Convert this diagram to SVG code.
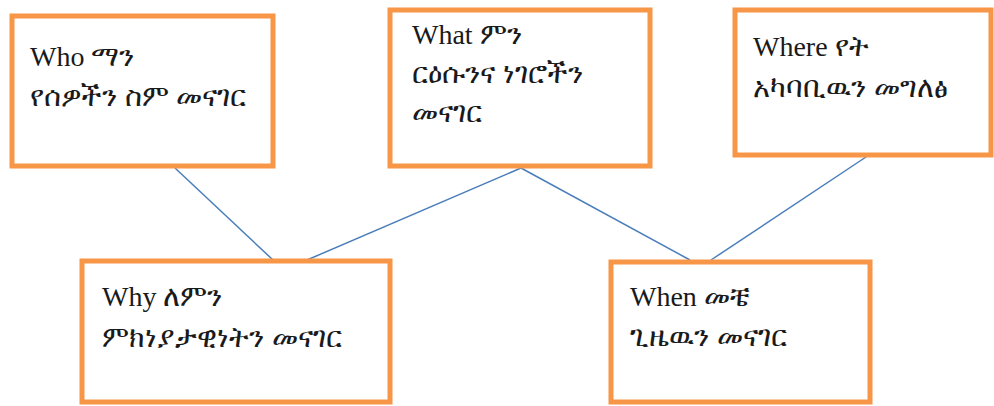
<svg xmlns="http://www.w3.org/2000/svg" width="994" height="406" viewBox="0 0 994 406">
<style>
.box{fill:#fff;stroke:#F79646;stroke-width:5}
.con{stroke:#4A7EBB;stroke-width:1.5;fill:none}
.t{font-family:"Liberation Serif","Noto Sans","DejaVu Sans",serif;font-size:28px;fill:#1a1a1a}
.e{font-family:"Noto Sans","DejaVu Sans","Noto Sans CJK SC",sans-serif;font-size:29px}
</style>
<rect width="994" height="406" fill="#fff"/>
<g id="connectors">
<line class="con" x1="175" y1="168" x2="273" y2="260"/>
<line class="con" x1="521" y1="168" x2="307" y2="260"/>
<line class="con" x1="521" y1="168" x2="690" y2="260"/>
<line class="con" x1="866" y1="157" x2="711" y2="260"/>
</g>
<g id="who">
<rect class="box" x="12" y="16" width="261" height="150"/>
<text class="t" x="30" y="66">Who <tspan class="e">ማን</tspan></text>
<text class="t e" x="30" y="106">የሰዎችን ስም መናገር</text>
</g>
<g id="what">
<rect class="box" x="390" y="10" width="260" height="156"/>
<text class="t" x="412" y="44">What <tspan class="e">ምን</tspan></text>
<text class="t e" x="412" y="83">ርዕሱንና ነገሮችን</text>
<text class="t e" x="412" y="122">መናገር</text>
</g>
<g id="where">
<rect class="box" x="735" y="10" width="256" height="145"/>
<text class="t" x="753" y="56">Where <tspan class="e">የት</tspan></text>
<text class="t e" x="753" y="97">አካባቢዉን መግለፅ</text>
</g>
<g id="why">
<rect class="box" x="82" y="261" width="308" height="141"/>
<text class="t" x="102" y="306">Why <tspan class="e">ለምን</tspan></text>
<text class="t e" x="102" y="347">ምክነያታዊነትን መናገር</text>
</g>
<g id="when">
<rect class="box" x="611" y="262" width="259" height="140"/>
<text class="t" x="630" y="306">When <tspan class="e">መቼ</tspan></text>
<text class="t e" x="630" y="346">ጊዜዉን መናገር</text>
</g>
</svg>
